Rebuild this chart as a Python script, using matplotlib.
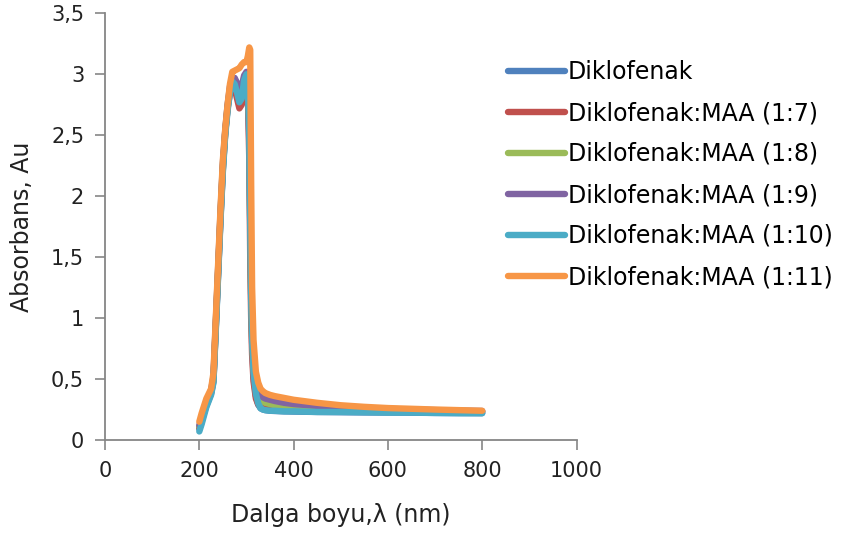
import matplotlib
matplotlib.use('Agg')
import matplotlib.pyplot as plt

# wavelength (nm)
wl = [200, 205, 210, 215, 220, 225, 230, 235, 240, 245, 250, 255, 260, 265, 270, 275,
      280, 285, 290, 295, 300, 303, 306, 308, 310, 312, 315, 320, 325, 330, 335, 340,
      350, 360, 380, 400, 450, 500, 550, 600, 650, 700, 750, 800]

diklofenak = [0.09, 0.15, 0.22, 0.28, 0.33, 0.38, 0.48, 0.92, 1.37, 1.82, 2.22, 2.52, 2.72, 2.86, 2.93, 2.9,
              2.83, 2.75, 2.78, 2.93, 2.98, 2.88, 2.45, 1.75, 1.15, 0.8, 0.52, 0.36, 0.29, 0.26, 0.25, 0.245,
              0.24, 0.238, 0.235, 0.233, 0.23, 0.228, 0.226, 0.225, 0.224, 0.222, 0.221, 0.22]
maa_1_7 = [0.1, 0.16, 0.23, 0.29, 0.34, 0.39, 0.49, 0.93, 1.38, 1.83, 2.23, 2.52, 2.72, 2.85, 2.9, 2.88,
           2.8, 2.72, 2.75, 2.9, 2.95, 2.85, 2.3, 1.5, 1.0, 0.7, 0.48, 0.34, 0.29, 0.275, 0.27, 0.268,
           0.265, 0.262, 0.258, 0.255, 0.25, 0.246, 0.243, 0.24, 0.237, 0.235, 0.233, 0.23]
maa_1_8 = [0.11, 0.17, 0.24, 0.3, 0.35, 0.4, 0.5, 0.95, 1.4, 1.85, 2.25, 2.53, 2.74, 2.88, 2.95, 2.95,
           2.9, 2.85, 2.88, 2.97, 3.0, 2.95, 2.6, 1.8, 1.2, 0.85, 0.6, 0.45, 0.37, 0.33, 0.315, 0.305,
           0.295, 0.285, 0.275, 0.27, 0.26, 0.255, 0.25, 0.246, 0.243, 0.24, 0.238, 0.235]
maa_1_9 = [0.12, 0.18, 0.25, 0.31, 0.36, 0.41, 0.52, 0.97, 1.42, 1.87, 2.27, 2.54, 2.75, 2.9, 2.97, 2.97,
           2.93, 2.88, 2.9, 2.99, 3.02, 2.98, 2.7, 1.9, 1.3, 0.9, 0.65, 0.5, 0.41, 0.37, 0.35, 0.34,
           0.33, 0.32, 0.305, 0.295, 0.28, 0.27, 0.262, 0.255, 0.25, 0.245, 0.241, 0.238]
maa_1_10 = [0.07, 0.13, 0.2, 0.27, 0.32, 0.37, 0.47, 0.9, 1.35, 1.8, 2.2, 2.5, 2.7, 2.85, 2.94, 2.92,
            2.85, 2.77, 2.8, 2.95, 3.0, 2.9, 2.5, 1.8, 1.2, 0.85, 0.55, 0.38, 0.3, 0.26, 0.25, 0.245,
            0.24, 0.24, 0.235, 0.235, 0.23, 0.23, 0.228, 0.225, 0.225, 0.222, 0.22, 0.22]
maa_1_11 = [0.15, 0.22, 0.28, 0.34, 0.38, 0.42, 0.55, 1.0, 1.45, 1.9, 2.3, 2.55, 2.75, 2.92, 3.02, 3.03,
            3.04, 3.05, 3.08, 3.1, 3.1, 3.15, 3.22, 3.2, 2.1, 1.25, 0.82, 0.56, 0.47, 0.42, 0.4, 0.385,
            0.37, 0.36, 0.345, 0.33, 0.305, 0.285, 0.272, 0.262, 0.256, 0.25, 0.245, 0.24]

series = [diklofenak, maa_1_7, maa_1_8, maa_1_9, maa_1_10, maa_1_11]
labels = ['Diklofenak', 'Diklofenak:MAA (1:7)', 'Diklofenak:MAA (1:8)',
          'Diklofenak:MAA (1:9)', 'Diklofenak:MAA (1:10)', 'Diklofenak:MAA (1:11)']
colors = ['#4F81BD', '#C0504D', '#9BBB59', '#8064A2', '#4BACC6', '#F79646']

xticks = [0, 200, 400, 600, 800, 1000]
yticks = [0, 0.5, 1, 1.5, 2, 2.5, 3, 3.5]
ytick_labels = ['0', '0,5', '1', '1,5', '2', '2,5', '3', '3,5']

W, H = 841, 534
fig = plt.figure(figsize=(W / 100, H / 100), dpi=100)
ax = fig.add_axes([105 / W, 94 / H, 471.5 / W, 426.7 / H])

for y, lab, c in zip(series, labels, colors):
    ax.plot(wl, y, color=c, lw=4.6, label=lab,
            solid_capstyle='round', solid_joinstyle='round')

ax.set_xlim(0, 1000)
ax.set_ylim(0, 3.5)
ax.set_xticks(xticks)
ax.set_xticklabels([str(t) for t in xticks])
ax.set_yticks(yticks)
ax.set_yticklabels(ytick_labels)

for s in ['top', 'right']:
    ax.spines[s].set_visible(False)
for s in ['left', 'bottom']:
    ax.spines[s].set_color('#868686')
    ax.spines[s].set_linewidth(1.3)
ax.tick_params(direction='out', length=7, width=1.2, color='#868686',
               labelsize=15, labelcolor='#222222', pad=8)

fig.text(341 / W, 1 - 515 / H, 'Dalga boyu,λ (nm)', ha='center', va='center',
         fontsize=17, color='#222222')
fig.text(22 / W, 1 - 227 / H, 'Absorbans, Au', ha='center', va='center',
         rotation=90, fontsize=17, color='#222222')

fig.legend(loc='upper left', bbox_to_anchor=(508 / W, 1 - 60 / H), frameon=False,
           fontsize=17, handlelength=2.4, handletextpad=0.12, labelspacing=0.72,
           borderpad=0, borderaxespad=0)

fig.savefig('out.png', dpi=100)
